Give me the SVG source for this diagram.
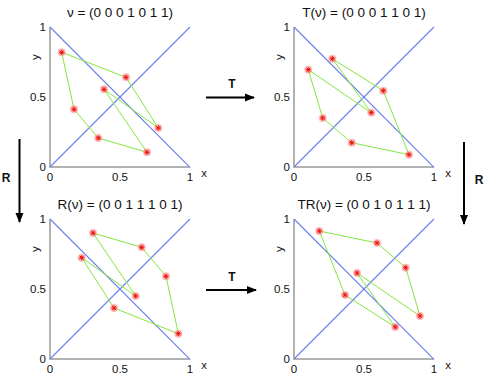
<svg xmlns="http://www.w3.org/2000/svg" xmlns:xlink="http://www.w3.org/1999/xlink" width="491" height="376" viewBox="0 0 491 376">
<style>
text{font-family:"Liberation Sans",Arial,sans-serif;fill:#111}
.title{font-size:13.5px;text-anchor:middle}
.tick{font-size:11.5px}
.poly{stroke:#84e640;stroke-width:1;fill:none;stroke-linejoin:round}
.diag{stroke:#6a7ff0;stroke-width:1.1;fill:none}
.arrow{stroke:#000;stroke-width:2;fill:none}
.op{font-size:12px;font-weight:bold;text-anchor:middle}
</style>
<defs>
<g id="star">
<circle r="4" fill="#ff8080" fill-opacity="0.55"/>
<path d="M-2.6,0H2.6M0,-2.6V2.6M-1.9,-1.9L1.9,1.9M-1.9,1.9L1.9,-1.9" stroke="#ee1111" stroke-width="1"/>
</g>
<g id="frame">
<polyline points="0,0 0,140 140,140" fill="none" stroke="#999999" stroke-width="1.5"/>
<path class="diag" d="M0,140L140,0"/>
<path class="diag" d="M0,0L140,140.4"/>
<text class="tick" x="-4" y="4" text-anchor="end">1</text>
<text class="tick" x="-4" y="74" text-anchor="end">0.5</text>
<text class="tick" x="-4" y="144" text-anchor="end">0</text>
<text class="tick" x="0" y="154" text-anchor="middle">0</text>
<text class="tick" x="70" y="154" text-anchor="middle">0.5</text>
<text class="tick" x="140" y="154" text-anchor="middle">1</text>
<text class="tick" x="154" y="150" text-anchor="middle">x</text>
<text class="tick" transform="translate(-11,30) rotate(-90)" text-anchor="middle">y</text>
</g>
<marker id="ah" viewBox="0 0 10 10" refX="9" refY="5" markerWidth="5" markerHeight="5" orient="auto" markerUnits="strokeWidth">
<path d="M0,1L10,5L0,9Z" fill="#000"/>
</marker>
</defs>

<g id="panel-v">
<use xlink:href="#frame" x="50" y="27"/>
<text class="title" x="120" y="17">ν = (0 0 0 1 0 1 1)</text>
<polygon class="poly" points="61.7,52.3 126,77.3 158.3,128 104,89.3 147,152.3 98.3,138 74,109.3"/>
<use xlink:href="#star" x="61.7" y="52.3"/><use xlink:href="#star" x="126" y="77.3"/><use xlink:href="#star" x="158.3" y="128"/><use xlink:href="#star" x="104" y="89.3"/><use xlink:href="#star" x="147" y="152.3"/><use xlink:href="#star" x="98.3" y="138"/><use xlink:href="#star" x="74" y="109.3"/>
</g>

<g id="panel-Tv">
<use xlink:href="#frame" x="294" y="27"/>
<text class="title" x="364" y="17">T(ν) = (0 0 0 1 1 0 1)</text>
<polygon class="poly" points="332.3,58.7 383.3,90.7 409,154.7 351.7,142.7 322.7,118 308.3,69.7 371.3,112.7"/>
<use xlink:href="#star" x="332.3" y="58.7"/><use xlink:href="#star" x="383.3" y="90.7"/><use xlink:href="#star" x="409" y="154.7"/><use xlink:href="#star" x="351.7" y="142.7"/><use xlink:href="#star" x="322.7" y="118"/><use xlink:href="#star" x="308.3" y="69.7"/><use xlink:href="#star" x="371.3" y="112.7"/>
</g>

<g id="panel-Rv">
<use xlink:href="#frame" x="50" y="219"/>
<text class="title" x="120" y="209">R(ν) = (0 0 1 1 1 0 1)</text>
<polygon class="poly" points="93,233 141.7,247.3 166,276.3 178.3,333.7 114,308 81.7,257.7 135.7,296"/>
<use xlink:href="#star" x="93" y="233"/><use xlink:href="#star" x="141.7" y="247.3"/><use xlink:href="#star" x="166" y="276.3"/><use xlink:href="#star" x="178.3" y="333.7"/><use xlink:href="#star" x="114" y="308"/><use xlink:href="#star" x="81.7" y="257.7"/><use xlink:href="#star" x="135.7" y="296"/>
</g>

<g id="panel-TRv">
<use xlink:href="#frame" x="294" y="219"/>
<text class="title" x="364" y="209">TR(ν) = (0 0 1 0 1 1 1)</text>
<polygon class="poly" points="319.3,231 377,243 405.7,267.7 420,316 357,273 395.3,327 345,295"/>
<use xlink:href="#star" x="319.3" y="231"/><use xlink:href="#star" x="377" y="243"/><use xlink:href="#star" x="405.7" y="267.7"/><use xlink:href="#star" x="420" y="316"/><use xlink:href="#star" x="357" y="273"/><use xlink:href="#star" x="395.3" y="327"/><use xlink:href="#star" x="345" y="295"/>
</g>

<g id="connectors">
<line class="arrow" x1="206" y1="97.5" x2="254" y2="97.5" marker-end="url(#ah)"/>
<text class="op" x="232" y="88">T</text>
<line class="arrow" x1="206" y1="290" x2="256" y2="290" marker-end="url(#ah)"/>
<text class="op" x="232" y="281">T</text>
<line class="arrow" x1="19.5" y1="139" x2="19.5" y2="222" marker-end="url(#ah)"/>
<text class="op" x="6" y="182">R</text>
<line class="arrow" x1="464" y1="142" x2="464" y2="224" marker-end="url(#ah)"/>
<text class="op" x="479" y="184">R</text>
</g>
</svg>
